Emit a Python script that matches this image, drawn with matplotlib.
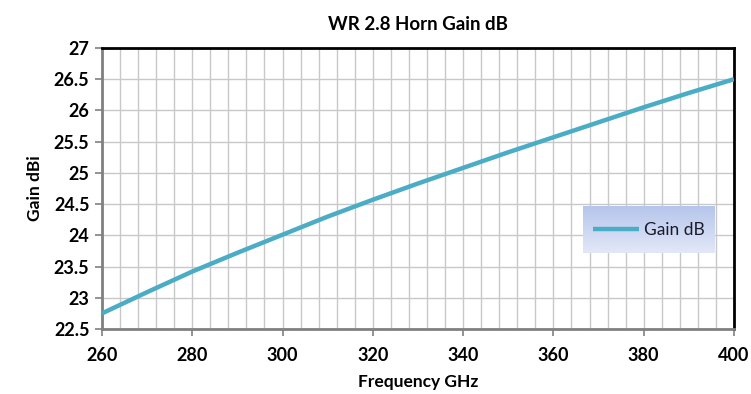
import numpy as np
import matplotlib
matplotlib.use("Agg")
import matplotlib.pyplot as plt
from matplotlib.ticker import MultipleLocator
from matplotlib.colors import LinearSegmentedColormap

freq_ghz = [260, 270, 280, 290, 300, 310, 320, 330, 340, 350, 360, 370, 380, 390, 400]
gain_db = [22.75, 23.09, 23.42, 23.72, 24.01, 24.30, 24.57, 24.83, 25.08, 25.33,
           25.57, 25.81, 26.05, 26.28, 26.50]

x_ticks = [260, 280, 300, 320, 340, 360, 380, 400]
y_ticks = [22.5, 23, 23.5, 24, 24.5, 25, 25.5, 26, 26.5, 27]

plt.rcParams['font.family'] = ['Lato', 'DejaVu Sans']

fig = plt.figure(figsize=(7.51, 3.94), dpi=100)
ax = fig.add_axes([0.1358, 0.165, 0.8415, 0.7132])

line_color = '#4BACC6'
ax.plot(freq_ghz, gain_db, color=line_color, lw=3.2, solid_capstyle='butt',
        solid_joinstyle='round', zorder=3, label='Gain dB')

ax.set_xlim(260, 400)
ax.set_ylim(22.5, 27)
ax.set_xticks(x_ticks)
ax.set_yticks(y_ticks)
ax.set_yticklabels([f'{v:g}' for v in y_ticks])
ax.xaxis.set_minor_locator(MultipleLocator(4))

ax.grid(True, which='major', color='#c8c8c8', lw=1.0, zorder=0)
ax.grid(True, which='minor', axis='x', color='#c8c8c8', lw=1.0, zorder=0)

for side in ('left', 'bottom'):
    ax.spines[side].set_color('#808080')
    ax.spines[side].set_linewidth(2.0)
for side in ('top', 'right'):
    ax.spines[side].set_color('black')
    ax.spines[side].set_linewidth(2.0)

ax.tick_params(axis='both', which='major', length=5, width=1.2, color='#808080',
               labelsize=13, pad=4)
ax.tick_params(axis='x', which='minor', length=0)
for lbl in ax.get_xticklabels() + ax.get_yticklabels():
    lbl.set_fontweight('bold')
ax.tick_params(axis='x', pad=8)

ax.set_title('WR 2.8 Horn Gain dB', fontsize=13.5, fontweight='bold', pad=13)
ax.set_xlabel('Frequency GHz', fontsize=12.5, fontweight='bold', labelpad=7)
ax.set_ylabel('Gain dBi', fontsize=12.5, fontweight='bold', labelpad=8)

# gradient background for the legend box
lx0, lx1 = (583 - 102) / 632, (715 - 102) / 632
ly0, ly1 = (329 - 253) / 281, (329 - 207) / 281
grad = np.linspace(0, 1, 64).reshape(-1, 1)
cmap = LinearSegmentedColormap.from_list('lg', ['#e2e8f7', '#b6c5ec'])
ax.imshow(grad, extent=[lx0, lx1, ly0, ly1], transform=ax.transAxes,
          cmap=cmap, aspect='auto', zorder=4, origin='lower')
leg = ax.legend(loc='center', bbox_to_anchor=((lx0 + lx1) / 2, (ly0 + ly1) / 2),
                frameon=False, fontsize=12.5, handlelength=2.6, handletextpad=0.3,
                labelcolor='#1a1a2a')
leg.set_zorder(5)
ax.set_aspect('auto')
ax.set_xlim(260, 400)
ax.set_ylim(22.5, 27)

fig.savefig('out.png', dpi=100)
